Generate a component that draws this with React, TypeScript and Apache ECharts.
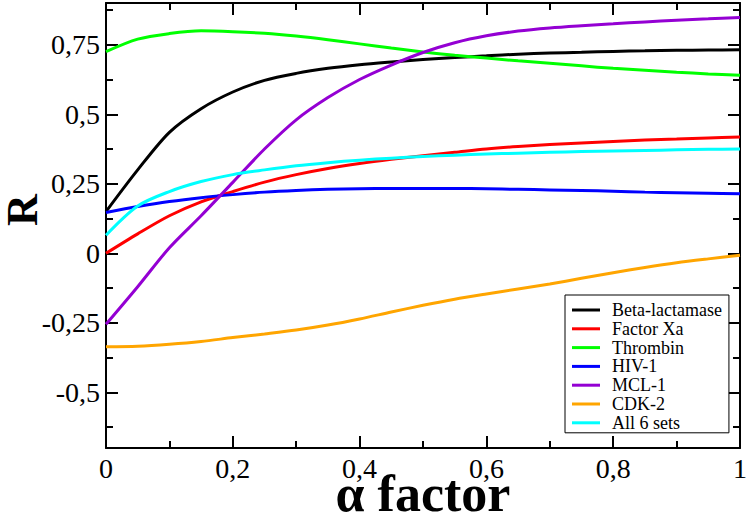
import React, { useEffect, useRef } from "react";
import * as echarts from "echarts";

// alpha factor sampling points
const alpha = [0, 0.05, 0.1, 0.15, 0.2, 0.25, 0.3, 0.35, 0.4, 0.45, 0.5, 0.55, 0.6, 0.65, 0.7, 0.75, 0.8, 0.85, 0.9, 0.95, 1];

const betaLactamase = [0.15, 0.3, 0.435, 0.52, 0.58, 0.622, 0.647, 0.665, 0.678, 0.688, 0.697, 0.704, 0.71, 0.716, 0.72, 0.723, 0.726, 0.728, 0.73, 0.731, 0.732];
const factorXa = [0, 0.07, 0.135, 0.185, 0.222, 0.256, 0.283, 0.305, 0.323, 0.338, 0.351, 0.363, 0.375, 0.384, 0.391, 0.397, 0.402, 0.407, 0.411, 0.415, 0.418];
const thrombin = [0.725, 0.77, 0.79, 0.8, 0.797, 0.791, 0.781, 0.768, 0.753, 0.738, 0.724, 0.712, 0.702, 0.692, 0.683, 0.674, 0.665, 0.658, 0.651, 0.645, 0.64];
const hiv1 = [0.147, 0.168, 0.186, 0.2, 0.211, 0.22, 0.226, 0.23, 0.232, 0.233, 0.233, 0.233, 0.232, 0.23, 0.228, 0.226, 0.223, 0.22, 0.218, 0.216, 0.214];
const mcl1 = [-0.255, -0.12, 0.02, 0.135, 0.255, 0.375, 0.48, 0.56, 0.625, 0.677, 0.722, 0.757, 0.782, 0.799, 0.81, 0.818, 0.825, 0.832, 0.838, 0.843, 0.848];
const cdk2 = [-0.336, -0.334, -0.327, -0.317, -0.303, -0.29, -0.276, -0.258, -0.236, -0.211, -0.187, -0.165, -0.146, -0.128, -0.11, -0.09, -0.07, -0.051, -0.034, -0.02, -0.007];
const all6Sets = [0.065, 0.17, 0.222, 0.258, 0.283, 0.3, 0.315, 0.326, 0.335, 0.342, 0.348, 0.353, 0.357, 0.36, 0.363, 0.366, 0.368, 0.37, 0.372, 0.374, 0.375];

const seriesNames = ["Beta-lactamase", "Factor Xa", "Thrombin", "HIV-1", "MCL-1", "CDK-2", "All 6 sets"];
const seriesValues = [betaLactamase, factorXa, thrombin, hiv1, mcl1, cdk2, all6Sets];
const seriesColors = ["#000000", "#ff0000", "#00ff00", "#0000ff", "#9400d3", "#ffa500", "#00ffff"];

const xTitle = "α factor";
const yTitle = "R";

const FONT = "'Liberation Serif', 'Times New Roman', serif";

const fmt = (v: number) => {
  const r = Math.round(v * 1000) / 1000;
  return String(r).replace(".", ",");
};
const yFmt = (v: number) => {
  const r = Math.round(v * 1000) / 1000;
  if (Math.abs(r / 0.25 - Math.round(r / 0.25)) > 1e-6) return "";
  return String(r).replace(".", ",");
};

export default function App() {
  const ref = useRef<HTMLDivElement>(null);
  useEffect(() => {
    if (!ref.current) return;
    const chart = echarts.init(ref.current, undefined, { renderer: "svg" });
    const axisLine = { show: true, onZero: false, lineStyle: { color: "#000", width: 2 } };
    const axisTick = { show: true, inside: true, length: 12, lineStyle: { color: "#000", width: 2 } };
    const minorTick = { show: true, splitNumber: 2, length: 7, lineStyle: { color: "#000", width: 2 } };
    const xBase = {
      type: "value",
      min: 0,
      max: 1,
      interval: 0.2,
      axisLine,
      axisTick,
      minorTick,
      splitLine: { show: false },
    };
    const yBase = {
      type: "value",
      min: -0.7,
      max: 0.9,
      minInterval: 0.25,
      maxInterval: 0.25,
      splitNumber: 6,
      axisLine,
      axisTick,
      minorTick,
      splitLine: { show: false },
    };
    chart.setOption({
      animation: false,
      backgroundColor: "#fff",
      grid: { left: 106, right: 10, top: 3, bottom: 72, containLabel: false },
      xAxis: [
        {
          ...xBase,
          position: "bottom",
          axisLabel: { show: true, formatter: fmt, fontFamily: FONT, fontSize: 28, lineHeight: 22, color: "#000", margin: 9 },
        },
        { ...xBase, position: "top", axisLabel: { show: false } },
      ],
      yAxis: [
        {
          ...yBase,
          position: "left",
          axisLabel: {
            show: true,
            formatter: yFmt,
            showMinLabel: false,
            showMaxLabel: false,
            fontFamily: FONT,
            fontSize: 28,
            color: "#000",
            margin: 6,
          },
        },
        { ...yBase, position: "right", axisLabel: { show: false } },
      ],
      legend: {
        orient: "vertical",
        left: 565,
        top: 295,
        icon: "rect",
        itemWidth: 28,
        itemHeight: 3,
        itemGap: 0.8,
        padding: [6, 7, 1, 7],
        borderColor: "#000",
        borderWidth: 1,
        backgroundColor: "#fff",
        textStyle: { fontFamily: FONT, fontSize: 18, color: "#000", lineHeight: 18, padding: [0, 0, 0, 7] },
        data: seriesNames,
      },
      graphic: [
        {
          type: "text",
          x: 22,
          y: 210,
          rotation: Math.PI / 2,
          style: {
            text: yTitle,
            fontFamily: FONT,
            fontSize: 44,
            lineHeight: 34,
            fontWeight: "bold",
            fill: "#000",
            textAlign: "center",
            textVerticalAlign: "middle",
          },
        },
        {
          type: "text",
          x: 423,
          y: 493,
          style: {
            text: xTitle,
            fontFamily: FONT,
            fontSize: 52,
            lineHeight: 26,
            fontWeight: "bold",
            fill: "#000",
            textAlign: "center",
            textVerticalAlign: "middle",
          },
        },
      ],
      series: seriesNames.map((name, i) => ({
        name,
        type: "line",
        xAxisIndex: 0,
        yAxisIndex: 0,
        data: alpha.map((a, j) => [a, seriesValues[i][j]]),
        smooth: 0.3,
        symbol: "none",
        color: seriesColors[i],
        lineStyle: { width: 3, color: seriesColors[i] },
      })),
    });
    return () => chart.dispose();
  }, []);
  return <div ref={ref} style={{ position: "absolute", left: 0, top: 0, width: 750, height: 520 }} />;
}
